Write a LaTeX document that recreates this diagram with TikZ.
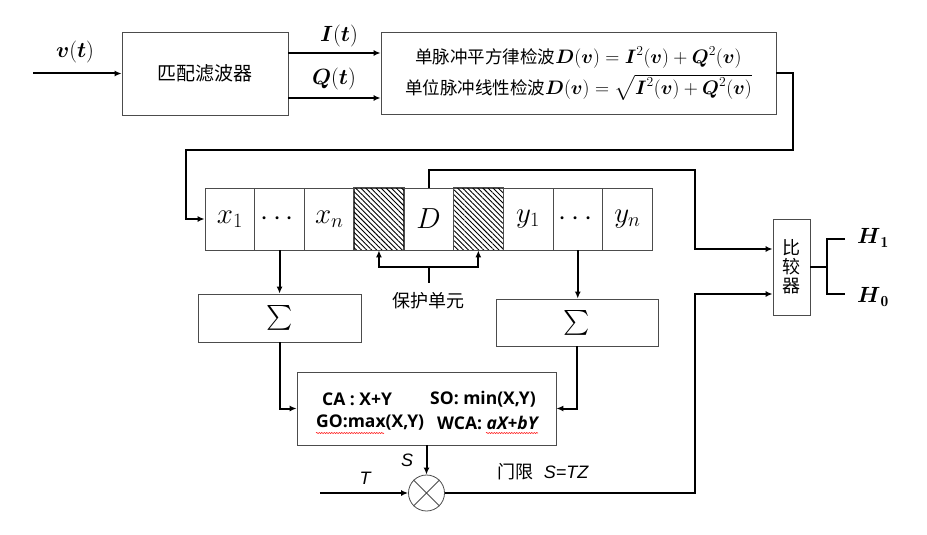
\documentclass[tikz,border=0pt]{standalone}
\usepackage{fix-cm}
\usepackage{fontspec}
\usepackage{amsmath}
\usepackage{tikz}
\usepackage{xcolor}
\usetikzlibrary{arrows.meta,patterns.meta,decorations.pathmorphing}
\newfontfamily\cjk{Noto Sans CJK SC}
\newfontfamily\opensans{Open Sans}
\newfontfamily\arialfont{Liberation Sans}
\newcommand\detmath{\fontsize{19.5}{26}\selectfont}

\begin{document}
\begin{tikzpicture}[x=1pt, y=-1pt,
  box/.style={draw=black!70, line width=0.8pt, fill=white, align=center, inner sep=0pt},
  cell/.style={draw=black!70, line width=0.8pt, minimum width=49.7pt, minimum height=62pt, inner sep=0pt, font=\fontsize{29}{31}\selectfont},
  hatch/.style={draw=black!70, line width=0.8pt, pattern={Lines[angle=-45, distance=3.6pt, line width=0.9pt]}},
  wire/.style={line width=2pt},
  conn/.style={line width=2pt, -{Latex[length=7pt,width=6pt]}},
  both/.style={line width=2pt, {Latex[length=7pt,width=6pt]}-{Latex[length=7pt,width=6pt]}},
  zh/.style={font=\cjk\fontsize{18}{28}\selectfont},
  bmath/.style={font=\fontsize{22}{24}\selectfont},
  rule/.style={font=\opensans\bfseries\fontsize{17.5}{19}\selectfont, anchor=west, inner sep=0pt},
  lab/.style={font=\arialfont\itshape\fontsize{18}{20}\selectfont},
  squiggle/.style={red, line width=0.5pt, decorate, decoration={snake, amplitude=0.6pt, segment length=2.5pt}}]

\useasboundingbox (0,0) rectangle (927,535);

% matched filter and detector
\coordinate (vin) at (33,73.5);
\node[box, minimum width=166pt, minimum height=83pt, font=\cjk\fontsize{19}{20}\selectfont] (mf) at (205,73.5) {匹配滤波器};
\node[box, minimum width=395pt, minimum height=82pt, font=\cjk\fontsize{17.5}{26}\selectfont] (det) at (578.5,73.5)
  {单脉冲平方律检波{\detmath$\boldsymbol{D}(\boldsymbol{v})=\boldsymbol{I}^2(\boldsymbol{v})+\boldsymbol{Q}^2(\boldsymbol{v})$}\\[5pt]
   单位脉冲线性检波{\detmath$\boldsymbol{D}(\boldsymbol{v})=\sqrt{\boldsymbol{I}^2(\boldsymbol{v})+\boldsymbol{Q}^2(\boldsymbol{v})}$}};
\draw[conn] (vin) -- (mf.west);
\draw[conn] ([yshift=20.5pt]mf.east) -- ([yshift=20.5pt]det.west);
\draw[conn] ([yshift=-24.5pt]mf.east) -- ([yshift=-24.5pt]det.west);
\node[bmath] (lv) at (75,52) {$\boldsymbol{v}(\boldsymbol{t})$};
\node[bmath] (lI) at (339,36) {$\boldsymbol{I}(\boldsymbol{t})$};
\node[bmath] (lQ) at (334,79) {$\boldsymbol{Q}(\boldsymbol{t})$};

% reference window
\foreach \t [count=\i] in {$x_1$,$\cdots$,$x_n$,{},$D$,{},$y_1$,$\cdots$,$y_n$}
  \node[cell] (c\i) at ({205+(\i-0.5)*49.7},219) {\t};
\foreach \i in {4,6}
  \draw[hatch] (c\i.south west) rectangle (c\i.north east);
\draw[conn] (det.east) -- (793,73.5) |- (186,150) |- (c1.west);

% guard cells
\coordinate (gj) at ([yshift=-17pt]c5.south);
\node[zh] (guard) at ([yshift=-50pt]c5.south) {保护单元};
\draw[both] (c4.south) |- (gj) -| (c6.south);
\draw[wire, shorten <=6pt] (guard.north) -- (gj);

% sums
\node[box, minimum width=163pt, minimum height=48pt, font=\fontsize{40}{42}\selectfont] (sumL) at (280,318) {$\sum$};
\node[box, minimum width=162pt, minimum height=47pt, font=\fontsize{40}{42}\selectfont] (sumR) at (577,322.5) {$\sum$};
\draw[conn] (c2.south) -- (c2.south |- sumL.north);
\draw[conn] (c8.south) -- (c8.south |- sumR.north);

% combining rule
\node[box, minimum width=259pt, minimum height=73pt] (comb) at (426.5,408.5) {};
\node[rule] (ca) at (322,399) {CA : X+Y};
\node[rule] (so) at (430,399) {SO: min(X,Y)};
\node[rule] (go) at (316,423) {GO:max(X,Y)};
\node[rule] (wca) at (437,423) {WCA: \textit{aX+bY}};
\draw[squiggle] (316,433) -- (384,433);
\draw[squiggle] (486,433) -- (538,433);
\draw[conn] (sumL.south) |- (comb.west);
\draw[conn] (sumR.south) |- (comb.east);

% threshold
\coordinate (tin) at (320,493);
\node[circle, draw=black!70, line width=0.8pt, minimum size=36pt, inner sep=0pt] (mult) at (426.5,493) {};
\draw[black!70, line width=0.8pt] (mult.45) -- (mult.225) (mult.135) -- (mult.315);
\draw[conn] (comb.south) -- (mult.north);
\draw[conn] (tin) -- (mult.west);
\node[lab] (lS) at (407,460) {S};
\node[lab] (lT) at (365,478) {T};
\node[lab] (thr) at (543,472) {{\upshape\cjk 门限}\ \ S=TZ};

% comparator
\node[box, minimum width=37pt, minimum height=96pt, font=\cjk\fontsize{18}{19}\selectfont] (cmp) at (791.5,267) {比\\较\\器};
\draw[conn] (c5.north) |- (695,170) |- ([yshift=18pt]cmp.west);
\draw[conn] (mult.east) -| (695,294) -- ([yshift=-27pt]cmp.west);
\draw[wire] (cmp.east) -- ++(17,0) coordinate (hj);
\coordinate (h1) at (845,239);
\coordinate (h0) at (845,294);
\draw[wire] (h1) -| (hj) |- (h0);
\node[bmath] (H1) at (873,238) {$\boldsymbol{H}_{\mathbf{1}}$};
\node[bmath] (H0) at (873,297) {$\boldsymbol{H}_{\mathbf{0}}$};
\end{tikzpicture}
\end{document}
